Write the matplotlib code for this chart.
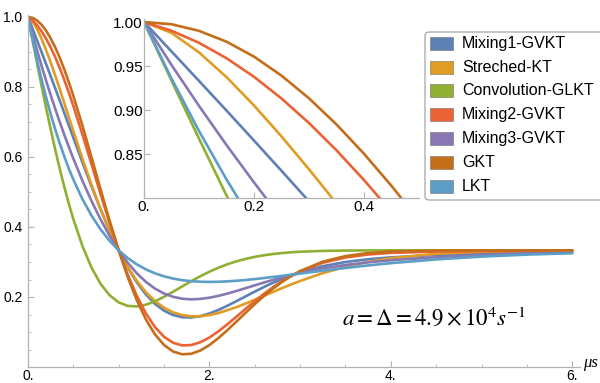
import matplotlib.pyplot as plt
from matplotlib.patches import Rectangle, FancyBboxPatch
from matplotlib.ticker import MultipleLocator

plt.rcParams['font.family'] = ['Liberation Sans', 'DejaVu Sans']
plt.rcParams['mathtext.fontset'] = 'stix'

# time axis
t = [0, 0.05, 0.1, 0.15, 0.2, 0.25, 0.3, 0.35, 0.4, 0.45, 0.5,
     0.6, 0.7, 0.8, 0.9, 1.0, 1.1, 1.2, 1.3, 1.4, 1.5, 1.6, 1.7, 1.8, 1.9,
     2.0, 2.1, 2.2, 2.3, 2.4, 2.5, 2.6, 2.7, 2.8, 2.9, 3.0,
     3.25, 3.5, 3.75, 4.0, 4.5, 5.0, 5.5, 6.0]

mixing1 = [1.0, 0.9666, 0.9331, 0.8994, 0.8653, 0.8309, 0.7962, 0.7611, 0.7259, 0.6905, 0.6551,
           0.5847, 0.5161, 0.4504, 0.3891, 0.3333, 0.2840, 0.2419, 0.2073, 0.1804, 0.1609, 0.1484,
           0.1422, 0.1415, 0.1454, 0.1529, 0.1631, 0.1752, 0.1884, 0.2019, 0.2154, 0.2284, 0.2405,
           0.2516, 0.2616, 0.2705, 0.2881, 0.3000, 0.3079, 0.3133, 0.3201, 0.3243, 0.3272, 0.3292]
stretched = [1.0, 0.9877, 0.9655, 0.9374, 0.9052, 0.8700, 0.8327, 0.7938, 0.7541, 0.7139, 0.6738,
             0.5951, 0.5203, 0.4510, 0.3885, 0.3333, 0.2859, 0.2460, 0.2137, 0.1883, 0.1694, 0.1563,
             0.1483, 0.1448, 0.1450, 0.1484, 0.1542, 0.1626, 0.1712, 0.1814, 0.1922, 0.2033, 0.2143,
             0.2252, 0.2357, 0.2458, 0.2682, 0.2863, 0.3004, 0.3108, 0.3235, 0.3294, 0.3319, 0.3328]
conv = [1.0, 0.9334, 0.8675, 0.8029, 0.7399, 0.6793, 0.6213, 0.5664, 0.5148, 0.4668, 0.4225,
        0.3456, 0.2841, 0.2376, 0.2050, 0.1846, 0.1746, 0.1730, 0.1780, 0.1877, 0.2005, 0.2151,
        0.2303, 0.2452, 0.2594, 0.2723, 0.2837, 0.2937, 0.3021, 0.3090, 0.3147, 0.3192, 0.3228,
        0.3256, 0.3277, 0.3293, 0.3317, 0.3327, 0.3331, 0.3333, 0.3333, 0.3333, 0.3333, 0.3333]
mixing2 = [1.0, 0.9901, 0.9764, 0.9589, 0.9378, 0.9131, 0.8852, 0.8542, 0.8204, 0.7842, 0.7459,
           0.6645, 0.5794, 0.4939, 0.4109, 0.3333, 0.2634, 0.2029, 0.1529, 0.1141, 0.0863, 0.0692,
           0.0617, 0.0627, 0.0707, 0.0843, 0.1020, 0.1224, 0.1442, 0.1664, 0.1882, 0.2088, 0.2278,
           0.2450, 0.2601, 0.2732, 0.2978, 0.3129, 0.3214, 0.3260, 0.3298, 0.3311, 0.3319, 0.3323]
mixing3 = [1.0, 0.9512, 0.9047, 0.8602, 0.8177, 0.7768, 0.7376, 0.6999, 0.6637, 0.6288, 0.5953,
           0.5322, 0.4744, 0.4218, 0.3748, 0.3333, 0.2976, 0.2675, 0.2431, 0.2240, 0.2099, 0.2005,
           0.1951, 0.1933, 0.1945, 0.1980, 0.2033, 0.2099, 0.2174, 0.2253, 0.2333, 0.2412, 0.2488,
           0.2560, 0.2626, 0.2687, 0.2816, 0.2915, 0.2991, 0.3050, 0.3138, 0.3199, 0.3241, 0.3271]
gkt = [1.0, 0.9975, 0.9900, 0.9777, 0.9607, 0.9391, 0.9133, 0.8836, 0.8503, 0.8138, 0.7746,
       0.6897, 0.5995, 0.5076, 0.4178, 0.3333, 0.2569, 0.1906, 0.1357, 0.0931, 0.0628, 0.0442,
       0.0363, 0.0378, 0.0472, 0.0627, 0.0827, 0.1057, 0.1303, 0.1552, 0.1796, 0.2026, 0.2238,
       0.2429, 0.2596, 0.2741, 0.3009, 0.3169, 0.3256, 0.3300, 0.3328, 0.3333, 0.3333, 0.3333]
lkt = [1.0, 0.9358, 0.8762, 0.8211, 0.7700, 0.7227, 0.6791, 0.6387, 0.6015, 0.5671, 0.5355,
       0.4797, 0.4327, 0.3932, 0.3604, 0.3333, 0.3111, 0.2932, 0.2788, 0.2676, 0.2590, 0.2526,
       0.2481, 0.2452, 0.2436, 0.2431, 0.2435, 0.2447, 0.2464, 0.2487, 0.2513, 0.2541, 0.2572,
       0.2604, 0.2636, 0.2670, 0.2752, 0.2830, 0.2902, 0.2967, 0.3074, 0.3154, 0.3211, 0.3251]

names = ['Mixing1-GVKT', 'Streched-KT', 'Convolution-GLKT', 'Mixing2-GVKT',
         'Mixing3-GVKT', 'GKT', 'LKT']
curves = [mixing1, stretched, conv, mixing2, mixing3, gkt, lkt]
colors = ['#5E81B5', '#E19C24', '#8FB032', '#EB6235', '#8778B3', '#C56E1A', '#5D9EC7']

xticks = [0, 2, 4, 6]
xticklabels = ['0.', '2.', '4.', '6.']
yticks = [0.2, 0.4, 0.6, 0.8, 1.0]
yticklabels = ['0.2', '0.4', '0.6', '0.8', '1.0']
in_xticks = [0, 0.2, 0.4]
in_xticklabels = ['0.', '0.2', '0.4']
in_yticks = [0.85, 0.90, 0.95, 1.00]
in_yticklabels = ['0.85', '0.90', '0.95', '1.00']

W, H = 600, 383
axis_gray = '#b3b3b3'

fig = plt.figure(figsize=(6, 3.83), dpi=100)

ax = fig.add_axes([28 / W, 16 / H, 552.4 / W, 351.75 / H])
for y, c in zip(curves, colors):
    ax.plot(t, y, color=c, lw=1.9, solid_capstyle='round')
ax.set_xlim(0, 6.09)
ax.set_ylim(0, 1.005)
ax.set_xticks(xticks)
ax.set_xticklabels(xticklabels)
ax.set_yticks(yticks)
ax.set_yticklabels(yticklabels)
ax.xaxis.set_minor_locator(MultipleLocator(0.5))
ax.yaxis.set_minor_locator(MultipleLocator(0.05))

# inset
ax2 = fig.add_axes([144 / W, 185 / H, 275 / W, 178.6 / H])
for y, c in zip(curves, colors):
    ax2.plot(t, y, color=c, lw=1.9, solid_capstyle='round')
ax2.set_xlim(0, 0.5)
ax2.set_ylim(0.8, 1.003)
ax2.set_xticks(in_xticks)
ax2.set_xticklabels(in_xticklabels)
ax2.set_yticks(in_yticks)
ax2.set_yticklabels(in_yticklabels)

for a in (ax, ax2):
    a.spines['top'].set_visible(False)
    a.spines['right'].set_visible(False)
    for s in ('left', 'bottom'):
        a.spines[s].set_color(axis_gray)
        a.spines[s].set_linewidth(0.9)
    a.tick_params(which='both', direction='in', color=axis_gray)
    a.tick_params(which='major', length=4, width=0.8)
    a.tick_params(which='minor', length=2, width=0.6)

ax.tick_params(axis='x', labelsize=10, pad=1.2)
ax.tick_params(axis='y', labelsize=10, pad=4)
ax2.tick_params(axis='x', labelsize=11, pad=1.5)
ax2.tick_params(axis='y', labelsize=11, pad=1)

# legend box, drawn in pixel coordinates
box = FancyBboxPatch((425, H - 200), 185, 168, boxstyle='round,pad=0,rounding_size=4',
                     transform=None, facecolor='white', edgecolor='#9a9a9a', lw=0.8)
fig.add_artist(box)
for i, (name, c) in enumerate(zip(names, colors)):
    yc = 43.3 + 23.8 * i
    fig.add_artist(Rectangle((430, H - yc - 6.5), 23, 13, transform=None,
                             facecolor=c, edgecolor='#707070', lw=0.4))
    fig.text(462 / W, 1 - yc / H, name, fontsize=11.5, va='center', ha='left')

fig.text(342 / W, 1 - 325 / H, r'$a=\Delta=4.9\times10^{4}s^{-1}$',
         fontsize=16.5, va='baseline', ha='left')
fig.text(583 / W, 1 - 367 / H, 'μs', family=['Liberation Serif', 'DejaVu Serif'],
         style='italic', fontsize=12, va='baseline', ha='left')

fig.savefig('out.png', dpi=100)
